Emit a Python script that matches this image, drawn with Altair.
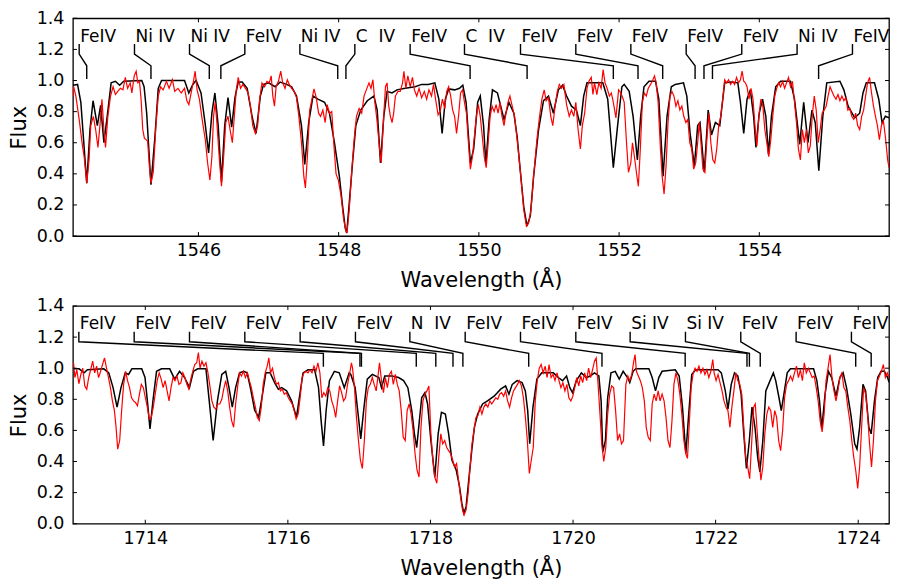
import altair as alt
import pandas as pd

FONT = "DejaVu Sans"

# ---------------- data (wavelength in Angstrom, normalised flux) ----------------
TOP_MODEL = [
    (1544.21, 0.97), (1544.276, 0.975), (1544.323, 0.86), (1544.407, 0.34), (1544.454, 0.69),
    (1544.497, 0.87), (1544.558, 0.71), (1544.605, 0.84), (1544.652, 0.60), (1544.699, 0.77),
    (1544.755, 0.985), (1544.816, 0.995), (1544.877, 0.97), (1544.934, 0.995), (1545.192, 1.0),
    (1545.225, 0.96), (1545.262, 0.79), (1545.323, 0.33), (1545.380, 0.64), (1545.427, 0.95),
    (1545.474, 1.0), (1545.802, 1.0), (1545.863, 0.92), (1545.920, 0.975), (1545.967, 1.0),
    (1546.037, 0.92), (1546.094, 0.73), (1546.145, 0.535), (1546.192, 0.79), (1546.235, 0.92),
    (1546.282, 0.71), (1546.329, 0.35), (1546.375, 0.71), (1546.422, 0.89), (1546.474, 0.70),
    (1546.521, 0.89), (1546.568, 0.99), (1546.624, 0.99), (1546.695, 0.95), (1546.765, 0.77),
    (1546.822, 0.66), (1546.883, 0.90), (1546.930, 0.975), (1547.000, 0.985), (1547.094, 0.96),
    (1547.164, 0.99), (1547.259, 0.975), (1547.329, 0.96), (1547.399, 0.90), (1547.470, 0.71),
    (1547.517, 0.46), (1547.573, 0.73), (1547.634, 0.90), (1547.705, 0.88), (1547.799, 0.86),
    (1547.869, 0.79), (1547.940, 0.60), (1548.010, 0.385), (1548.057, 0.19), (1548.095, 0.05),
    (1548.115, 0.02), (1548.151, 0.21), (1548.198, 0.47), (1548.245, 0.71), (1548.315, 0.81),
    (1548.409, 0.87), (1548.503, 0.90), (1548.550, 0.81), (1548.597, 0.47), (1548.644, 0.77),
    (1548.691, 0.93), (1548.762, 0.92), (1548.832, 0.94), (1548.949, 0.95), (1549.090, 0.96),
    (1549.184, 0.975), (1549.278, 0.975), (1549.372, 0.985), (1549.429, 0.88), (1549.476, 0.66),
    (1549.522, 0.88), (1549.569, 0.946), (1549.654, 0.94), (1549.724, 0.95), (1549.771, 0.97),
    (1549.818, 0.86), (1549.879, 0.47), (1549.926, 0.56), (1549.983, 0.86), (1550.020, 0.90),
    (1550.067, 0.71), (1550.100, 0.46), (1550.147, 0.75), (1550.194, 0.94), (1550.265, 0.92),
    (1550.359, 0.75), (1550.429, 0.86), (1550.499, 0.79), (1550.546, 0.64), (1550.593, 0.41),
    (1550.640, 0.19), (1550.687, 0.064), (1550.734, 0.13), (1550.781, 0.385), (1550.852, 0.685),
    (1550.922, 0.87), (1550.993, 0.90), (1551.063, 0.79), (1551.134, 0.94), (1551.195, 0.97),
    (1551.251, 0.90), (1551.321, 0.835), (1551.392, 0.81), (1551.448, 0.71), (1551.495, 0.90),
    (1551.542, 0.985), (1551.768, 0.985), (1551.838, 0.88), (1551.918, 0.44), (1551.979, 0.71),
    (1552.040, 0.96), (1552.073, 0.975), (1552.144, 0.93), (1552.200, 0.77), (1552.261, 0.49),
    (1552.308, 0.77), (1552.355, 0.96), (1552.426, 0.995), (1552.520, 0.995), (1552.567, 0.88),
    (1552.628, 0.385), (1552.684, 0.77), (1552.745, 0.96), (1552.801, 0.975), (1552.919, 0.985),
    (1552.966, 0.90), (1553.013, 0.66), (1553.074, 0.45), (1553.121, 0.71), (1553.154, 0.73),
    (1553.215, 0.41), (1553.271, 0.81), (1553.318, 0.65), (1553.374, 0.73), (1553.436, 0.71),
    (1553.506, 0.985), (1553.600, 0.99), (1553.694, 0.985), (1553.731, 0.86), (1553.778, 0.66),
    (1553.825, 0.88), (1553.872, 0.94), (1553.919, 0.77), (1553.952, 0.57), (1553.999, 0.79),
    (1554.046, 0.88), (1554.093, 0.77), (1554.131, 0.525), (1554.173, 0.77), (1554.234, 0.96),
    (1554.304, 0.995), (1554.445, 0.995), (1554.502, 0.88), (1554.577, 0.59), (1554.633, 0.86),
    (1554.694, 0.60), (1554.751, 0.81), (1554.798, 0.73), (1554.849, 0.42), (1554.906, 0.77),
    (1554.962, 0.985), (1555.150, 0.995), (1555.206, 0.94), (1555.267, 0.835), (1555.361, 0.76),
    (1555.432, 0.79), (1555.479, 0.92), (1555.526, 0.985), (1555.643, 0.985), (1555.704, 0.88),
    (1555.751, 0.73), (1555.798, 0.77), (1555.85, 0.76),
]

TOP_OBS = [
    (1544.21, 0.90), (1544.220, 0.96), (1544.252, 0.90), (1544.299, 0.75), (1544.346, 0.58),
    (1544.370, 0.51), (1544.407, 0.34), (1544.440, 0.49), (1544.464, 0.71), (1544.501, 0.77),
    (1544.534, 0.685), (1544.567, 0.57), (1544.595, 0.71), (1544.624, 0.88), (1544.652, 0.685),
    (1544.675, 0.57), (1544.708, 0.77), (1544.746, 0.90), (1544.783, 0.96), (1544.816, 0.91),
    (1544.849, 0.93), (1544.887, 0.95), (1544.924, 0.94), (1544.957, 1.02), (1544.990, 0.95),
    (1545.027, 0.985), (1545.051, 0.92), (1545.084, 1.03), (1545.112, 1.06), (1545.135, 0.985),
    (1545.159, 0.995), (1545.182, 0.88), (1545.206, 0.685), (1545.229, 0.63), (1545.253, 0.62),
    (1545.276, 0.61), (1545.300, 0.45), (1545.323, 0.34), (1545.356, 0.41), (1545.394, 0.71),
    (1545.427, 0.90), (1545.460, 0.96), (1545.497, 0.94), (1545.544, 0.995), (1545.582, 0.95),
    (1545.629, 1.005), (1545.662, 0.93), (1545.709, 0.95), (1545.755, 0.92), (1545.802, 0.95),
    (1545.835, 0.87), (1545.864, 0.845), (1545.896, 0.92), (1545.929, 0.995), (1545.953, 1.06),
    (1545.981, 0.94), (1546.014, 0.88), (1546.047, 0.77), (1546.075, 0.685), (1546.098, 0.62),
    (1546.131, 0.47), (1546.164, 0.36), (1546.192, 0.51), (1546.216, 0.77), (1546.239, 0.86),
    (1546.263, 0.73), (1546.296, 0.51), (1546.329, 0.32), (1546.357, 0.49), (1546.390, 0.73),
    (1546.422, 0.77), (1546.451, 0.685), (1546.484, 0.60), (1546.512, 0.77), (1546.540, 0.94),
    (1546.568, 1.02), (1546.601, 0.95), (1546.634, 0.975), (1546.671, 0.95), (1546.709, 0.92),
    (1546.742, 0.835), (1546.775, 0.71), (1546.812, 0.66), (1546.845, 0.71), (1546.873, 0.88),
    (1546.906, 0.985), (1546.944, 0.96), (1546.977, 0.995), (1547.010, 0.985), (1547.038, 1.03),
    (1547.061, 0.90), (1547.085, 0.835), (1547.108, 0.96), (1547.141, 0.995), (1547.174, 1.06),
    (1547.202, 0.985), (1547.235, 0.95), (1547.268, 1.005), (1547.296, 0.975), (1547.329, 0.95),
    (1547.367, 0.93), (1547.399, 0.89), (1547.432, 0.77), (1547.470, 0.60), (1547.503, 0.385),
    (1547.526, 0.31), (1547.554, 0.51), (1547.587, 0.81), (1547.620, 0.88), (1547.648, 0.946),
    (1547.681, 0.89), (1547.714, 0.79), (1547.742, 0.77), (1547.775, 0.81), (1547.808, 0.73),
    (1547.836, 0.845), (1547.869, 0.79), (1547.902, 0.80), (1547.930, 0.60), (1547.963, 0.40),
    (1547.996, 0.36), (1548.034, 0.26), (1548.071, 0.107), (1548.100, 0.043), (1548.120, 0.02),
    (1548.151, 0.17), (1548.189, 0.43), (1548.221, 0.62), (1548.254, 0.77), (1548.292, 0.82),
    (1548.329, 0.79), (1548.362, 0.90), (1548.395, 0.94), (1548.433, 0.985), (1548.461, 0.95),
    (1548.489, 1.005), (1548.517, 0.86), (1548.550, 0.73), (1548.583, 0.56), (1548.607, 0.47),
    (1548.635, 0.71), (1548.668, 0.96), (1548.691, 0.985), (1548.715, 0.835), (1548.738, 0.77),
    (1548.762, 0.73), (1548.785, 0.79), (1548.809, 0.90), (1548.846, 0.93), (1548.879, 0.93),
    (1548.912, 0.985), (1548.931, 1.06), (1548.959, 0.95), (1548.987, 1.03), (1549.020, 0.96),
    (1549.053, 1.02), (1549.081, 0.94), (1549.114, 0.90), (1549.147, 0.95), (1549.184, 0.89),
    (1549.222, 0.93), (1549.255, 0.88), (1549.288, 0.94), (1549.325, 0.90), (1549.353, 0.975),
    (1549.382, 0.88), (1549.419, 0.78), (1549.452, 0.81), (1549.480, 0.88), (1549.513, 0.82),
    (1549.541, 0.93), (1549.569, 0.96), (1549.598, 0.90), (1549.626, 0.81), (1549.654, 0.77),
    (1549.682, 0.66), (1549.710, 0.77), (1549.739, 0.92), (1549.767, 0.94), (1549.795, 0.86),
    (1549.823, 0.79), (1549.851, 0.60), (1549.879, 0.43), (1549.908, 0.51), (1549.936, 0.64),
    (1549.964, 0.77), (1549.992, 0.845), (1550.020, 0.77), (1550.049, 0.64), (1550.077, 0.51),
    (1550.105, 0.44), (1550.133, 0.60), (1550.161, 0.77), (1550.189, 0.835), (1550.218, 0.80),
    (1550.246, 0.845), (1550.274, 0.79), (1550.302, 0.86), (1550.330, 0.77), (1550.359, 0.71),
    (1550.387, 0.79), (1550.415, 0.86), (1550.443, 0.90), (1550.471, 0.845), (1550.509, 0.77),
    (1550.546, 0.62), (1550.593, 0.41), (1550.640, 0.17), (1550.678, 0.064), (1550.711, 0.086),
    (1550.744, 0.17), (1550.781, 0.385), (1550.828, 0.62), (1550.866, 0.77), (1550.899, 0.88),
    (1550.932, 0.94), (1550.960, 0.87), (1550.993, 0.89), (1551.026, 0.77), (1551.054, 0.71),
    (1551.087, 0.835), (1551.119, 0.93), (1551.148, 0.975), (1551.180, 0.95), (1551.213, 0.975),
    (1551.251, 0.845), (1551.289, 0.77), (1551.321, 0.81), (1551.354, 0.77), (1551.383, 0.86),
    (1551.415, 0.685), (1551.448, 0.56), (1551.476, 0.71), (1551.509, 0.79), (1551.542, 0.95),
    (1551.570, 0.995), (1551.603, 1.02), (1551.627, 0.91), (1551.650, 0.985), (1551.683, 0.91),
    (1551.711, 0.985), (1551.744, 0.95), (1551.772, 1.07), (1551.800, 0.985), (1551.829, 0.95),
    (1551.862, 0.90), (1551.890, 0.92), (1551.918, 0.86), (1551.955, 0.76), (1551.993, 0.94),
    (1552.026, 0.92), (1552.059, 0.88), (1552.073, 0.86), (1552.106, 0.60), (1552.134, 0.41),
    (1552.167, 0.47), (1552.191, 0.60), (1552.219, 0.51), (1552.247, 0.41), (1552.275, 0.32),
    (1552.303, 0.56), (1552.332, 0.86), (1552.360, 0.92), (1552.388, 0.90), (1552.416, 0.95),
    (1552.449, 0.975), (1552.482, 1.005), (1552.505, 1.03), (1552.529, 0.985), (1552.557, 0.86),
    (1552.590, 0.56), (1552.614, 0.385), (1552.642, 0.27), (1552.670, 0.45), (1552.698, 0.73),
    (1552.726, 0.90), (1552.754, 0.93), (1552.783, 0.90), (1552.811, 0.835), (1552.839, 0.87),
    (1552.867, 0.81), (1552.895, 0.835), (1552.923, 0.77), (1552.952, 0.73), (1552.980, 0.75),
    (1553.008, 0.60), (1553.036, 0.56), (1553.064, 0.43), (1553.093, 0.47), (1553.121, 0.60),
    (1553.144, 0.73), (1553.168, 0.60), (1553.196, 0.43), (1553.224, 0.41), (1553.252, 0.62),
    (1553.280, 0.79), (1553.309, 0.60), (1553.337, 0.49), (1553.365, 0.47), (1553.393, 0.56),
    (1553.421, 0.71), (1553.450, 0.77), (1553.478, 0.88), (1553.506, 1.005), (1553.534, 0.985),
    (1553.562, 1.005), (1553.591, 0.975), (1553.619, 0.995), (1553.647, 0.975), (1553.675, 1.02),
    (1553.703, 0.985), (1553.731, 1.005), (1553.755, 1.06), (1553.778, 0.995), (1553.802, 0.985),
    (1553.825, 0.96), (1553.853, 0.88), (1553.882, 0.95), (1553.910, 0.88), (1553.938, 0.71),
    (1553.966, 0.58), (1553.994, 0.77), (1554.023, 0.88), (1554.051, 0.835), (1554.079, 0.685),
    (1554.107, 0.60), (1554.135, 0.51), (1554.164, 0.62), (1554.192, 0.77), (1554.220, 0.90),
    (1554.248, 0.95), (1554.276, 0.985), (1554.304, 0.96), (1554.333, 0.995), (1554.361, 0.95),
    (1554.389, 0.985), (1554.417, 1.02), (1554.445, 0.96), (1554.473, 0.995), (1554.502, 0.86),
    (1554.530, 0.73), (1554.558, 0.56), (1554.586, 0.49), (1554.614, 0.685), (1554.643, 0.60),
    (1554.671, 0.685), (1554.699, 0.535), (1554.727, 0.58), (1554.755, 0.77), (1554.784, 0.90),
    (1554.812, 0.81), (1554.840, 0.60), (1554.868, 0.685), (1554.896, 0.79), (1554.924, 0.81),
    (1554.953, 0.835), (1554.981, 0.90), (1555.009, 0.96), (1555.037, 0.93), (1555.065, 0.90),
    (1555.094, 0.88), (1555.122, 0.91), (1555.150, 0.87), (1555.178, 0.90), (1555.206, 0.87),
    (1555.234, 0.89), (1555.263, 0.81), (1555.291, 0.82), (1555.319, 0.77), (1555.347, 0.75),
    (1555.375, 0.79), (1555.403, 0.71), (1555.432, 0.685), (1555.460, 0.77), (1555.488, 0.81),
    (1555.516, 0.90), (1555.544, 0.985), (1555.573, 1.02), (1555.601, 0.92), (1555.629, 0.835),
    (1555.657, 0.77), (1555.685, 0.71), (1555.713, 0.62), (1555.742, 0.71), (1555.770, 0.74),
    (1555.798, 0.64), (1555.831, 0.49), (1555.85, 0.44),
]

BOT_MODEL = [
    (1712.994, 0.996), (1713.072, 0.996), (1713.142, 0.97), (1713.188, 0.99), (1713.419, 0.996),
    (1713.488, 0.97), (1713.548, 0.875), (1713.604, 0.75), (1713.659, 0.875), (1713.719, 0.97),
    (1713.765, 0.96), (1713.812, 0.996), (1713.950, 0.996), (1713.996, 0.94), (1714.029, 0.79),
    (1714.066, 0.61), (1714.112, 0.81), (1714.158, 0.98), (1714.227, 0.996), (1714.343, 0.996),
    (1714.412, 0.93), (1714.481, 0.98), (1714.551, 0.94), (1714.620, 0.875), (1714.675, 0.98),
    (1714.735, 0.996), (1714.851, 0.996), (1714.897, 0.79), (1714.952, 0.535), (1715.012, 0.79),
    (1715.073, 0.96), (1715.128, 0.98), (1715.174, 0.875), (1715.220, 0.75), (1715.267, 0.875),
    (1715.322, 0.97), (1715.382, 0.98), (1715.428, 0.97), (1715.474, 0.875), (1715.534, 0.73),
    (1715.590, 0.685), (1715.636, 0.81), (1715.691, 0.97), (1715.751, 0.97), (1715.821, 0.90),
    (1715.867, 0.865), (1715.913, 0.875), (1715.982, 0.855), (1716.052, 0.79), (1716.121, 0.685),
    (1716.167, 0.83), (1716.213, 0.97), (1716.283, 0.99), (1716.375, 0.99), (1716.430, 0.875),
    (1716.467, 0.66), (1716.500, 0.50), (1716.537, 0.73), (1716.583, 0.92), (1716.652, 0.98),
    (1716.721, 0.97), (1716.791, 0.875), (1716.860, 0.97), (1716.883, 0.96), (1716.944, 0.875),
    (1716.990, 0.684), (1717.022, 0.546), (1717.068, 0.75), (1717.114, 0.93), (1717.184, 0.96),
    (1717.276, 0.94), (1717.313, 0.875), (1717.359, 0.95), (1717.461, 0.95), (1717.553, 0.94),
    (1717.623, 0.92), (1717.683, 0.875), (1717.738, 0.727), (1717.775, 0.578), (1717.807, 0.49),
    (1717.844, 0.66), (1717.877, 0.81), (1717.923, 0.843), (1717.960, 0.77), (1718.006, 0.535),
    (1718.061, 0.30), (1718.108, 0.578), (1718.154, 0.716), (1718.209, 0.705), (1718.255, 0.578),
    (1718.301, 0.41), (1718.362, 0.344), (1718.408, 0.238), (1718.440, 0.132), (1718.468, 0.068),
    (1718.500, 0.11), (1718.537, 0.28), (1718.579, 0.47), (1718.616, 0.62), (1718.662, 0.705),
    (1718.731, 0.77), (1718.800, 0.79), (1718.893, 0.82), (1718.985, 0.865), (1719.054, 0.886),
    (1719.101, 0.833), (1719.147, 0.896), (1719.216, 0.92), (1719.285, 0.907), (1719.331, 0.854),
    (1719.364, 0.727), (1719.392, 0.514), (1719.438, 0.75), (1719.493, 0.93), (1719.562, 0.97),
    (1719.724, 0.97), (1719.793, 0.94), (1719.853, 0.92), (1719.909, 0.95), (1719.955, 0.875),
    (1719.992, 0.843), (1720.047, 0.92), (1720.117, 0.97), (1720.186, 0.94), (1720.241, 0.95),
    (1720.301, 0.97), (1720.362, 0.95), (1720.394, 0.79), (1720.417, 0.46), (1720.454, 0.535),
    (1720.486, 0.81), (1720.532, 0.97), (1720.592, 0.98), (1720.648, 0.93), (1720.703, 0.98),
    (1720.764, 0.94), (1720.796, 0.907), (1720.843, 0.98), (1720.880, 0.996), (1721.064, 0.996),
    (1721.110, 0.94), (1721.157, 0.854), (1721.203, 0.94), (1721.249, 0.98), (1721.434, 0.99),
    (1721.489, 0.95), (1721.535, 0.75), (1721.582, 0.45), (1721.619, 0.684), (1721.665, 0.96),
    (1721.720, 0.99), (1722.034, 0.99), (1722.080, 0.97), (1722.136, 0.854), (1722.173, 0.737),
    (1722.219, 0.896), (1722.265, 0.97), (1722.311, 0.95), (1722.358, 0.833), (1722.395, 0.578),
    (1722.432, 0.355), (1722.473, 0.535), (1722.510, 0.75), (1722.552, 0.62), (1722.589, 0.43),
    (1722.621, 0.333), (1722.662, 0.535), (1722.704, 0.854), (1722.764, 0.92), (1722.810, 0.97),
    (1722.843, 0.92), (1722.889, 0.81), (1722.921, 0.727), (1722.958, 0.833), (1723.004, 0.97),
    (1723.050, 0.996), (1723.374, 0.996), (1723.420, 0.92), (1723.457, 0.79), (1723.489, 0.61),
    (1723.535, 0.833), (1723.582, 0.98), (1723.628, 0.94), (1723.688, 0.82), (1723.743, 0.94),
    (1723.789, 0.97), (1723.836, 0.875), (1723.896, 0.705), (1723.951, 0.514), (1723.983, 0.48),
    (1724.020, 0.62), (1724.067, 0.896), (1724.104, 0.854), (1724.150, 0.62), (1724.182, 0.578),
    (1724.228, 0.79), (1724.274, 0.94), (1724.321, 0.98), (1724.367, 0.98), (1724.413, 0.94),
    (1724.432, 0.91),
]

BOT_OBS = [
    (1712.994, 1.035), (1713.012, 0.94), (1713.040, 0.99), (1713.068, 0.90), (1713.096, 0.96),
    (1713.123, 1.00), (1713.151, 0.886), (1713.179, 0.865), (1713.206, 0.94), (1713.234, 0.99),
    (1713.262, 1.045), (1713.290, 0.97), (1713.317, 1.013), (1713.345, 0.94), (1713.373, 0.98),
    (1713.400, 1.024), (1713.428, 1.066), (1713.456, 1.00), (1713.484, 0.94), (1713.511, 0.875),
    (1713.539, 0.79), (1713.567, 0.727), (1713.590, 0.62), (1713.613, 0.48), (1713.641, 0.535),
    (1713.668, 0.727), (1713.696, 0.896), (1713.724, 0.98), (1713.751, 0.92), (1713.779, 0.875),
    (1713.807, 0.81), (1713.835, 0.79), (1713.862, 0.78), (1713.890, 0.758), (1713.918, 0.833),
    (1713.945, 0.896), (1713.973, 0.875), (1714.001, 0.81), (1714.029, 0.75), (1714.056, 0.673),
    (1714.084, 0.684), (1714.112, 0.75), (1714.139, 0.833), (1714.167, 0.92), (1714.195, 0.97),
    (1714.223, 0.93), (1714.250, 0.875), (1714.278, 0.92), (1714.306, 0.854), (1714.333, 0.79),
    (1714.361, 0.875), (1714.389, 0.94), (1714.417, 0.92), (1714.444, 0.95), (1714.472, 0.896),
    (1714.500, 0.907), (1714.527, 0.97), (1714.555, 0.94), (1714.583, 0.896), (1714.611, 0.865),
    (1714.638, 0.93), (1714.666, 0.98), (1714.694, 1.024), (1714.721, 1.035), (1714.745, 1.10),
    (1714.768, 1.00), (1714.795, 1.045), (1714.823, 1.013), (1714.851, 1.035), (1714.879, 0.97),
    (1714.906, 0.886), (1714.934, 0.79), (1714.962, 0.75), (1714.989, 0.737), (1715.017, 0.77),
    (1715.045, 0.77), (1715.073, 0.80), (1715.100, 0.865), (1715.128, 0.92), (1715.156, 0.854),
    (1715.183, 0.75), (1715.211, 0.663), (1715.239, 0.62), (1715.267, 0.77), (1715.294, 0.875),
    (1715.322, 0.97), (1715.350, 0.95), (1715.377, 0.98), (1715.405, 0.94), (1715.433, 0.97),
    (1715.460, 0.92), (1715.488, 0.875), (1715.516, 0.81), (1715.544, 0.75), (1715.571, 0.684),
    (1715.599, 0.663), (1715.627, 0.75), (1715.654, 0.896), (1715.682, 0.97), (1715.710, 1.013),
    (1715.733, 1.066), (1715.756, 0.97), (1715.784, 1.00), (1715.811, 0.94), (1715.839, 0.896),
    (1715.867, 0.907), (1715.895, 0.854), (1715.922, 0.865), (1715.950, 0.833), (1715.978, 0.843),
    (1716.006, 0.81), (1716.033, 0.79), (1716.061, 0.77), (1716.089, 0.727), (1716.116, 0.673),
    (1716.144, 0.705), (1716.172, 0.81), (1716.200, 0.94), (1716.227, 0.97), (1716.255, 0.98),
    (1716.283, 0.97), (1716.310, 0.99), (1716.338, 0.97), (1716.366, 1.013), (1716.394, 0.98),
    (1716.421, 1.035), (1716.449, 0.97), (1716.477, 0.81), (1716.504, 0.843), (1716.532, 0.82),
    (1716.560, 0.875), (1716.588, 0.854), (1716.615, 0.79), (1716.643, 0.75), (1716.671, 0.684),
    (1716.698, 0.79), (1716.726, 0.886), (1716.754, 0.843), (1716.781, 0.79), (1716.809, 0.81),
    (1716.837, 0.896), (1716.865, 0.96), (1716.892, 1.035), (1716.907, 1.00), (1716.934, 0.875),
    (1716.962, 0.684), (1716.990, 0.535), (1717.017, 0.41), (1717.045, 0.355), (1717.073, 0.535),
    (1717.101, 0.79), (1717.128, 0.875), (1717.156, 0.896), (1717.184, 0.94), (1717.211, 0.896),
    (1717.239, 0.854), (1717.267, 0.96), (1717.285, 1.035), (1717.313, 0.92), (1717.341, 0.843),
    (1717.368, 0.94), (1717.396, 0.875), (1717.424, 0.96), (1717.452, 0.98), (1717.479, 0.896),
    (1717.507, 0.96), (1717.535, 0.896), (1717.562, 0.854), (1717.590, 0.727), (1717.618, 0.556),
    (1717.646, 0.535), (1717.673, 0.727), (1717.701, 0.77), (1717.729, 0.705), (1717.756, 0.60),
    (1717.784, 0.45), (1717.812, 0.344), (1717.840, 0.30), (1717.867, 0.62), (1717.895, 0.79),
    (1717.923, 0.833), (1717.950, 0.854), (1717.978, 0.886), (1718.006, 0.578), (1718.034, 0.41),
    (1718.061, 0.30), (1718.089, 0.26), (1718.117, 0.43), (1718.145, 0.578), (1718.172, 0.514),
    (1718.200, 0.535), (1718.228, 0.49), (1718.255, 0.47), (1718.283, 0.45), (1718.311, 0.41),
    (1718.338, 0.365), (1718.366, 0.387), (1718.394, 0.28), (1718.422, 0.174), (1718.449, 0.09),
    (1718.472, 0.057), (1718.500, 0.09), (1718.528, 0.195), (1718.556, 0.365), (1718.583, 0.514),
    (1718.611, 0.60), (1718.639, 0.684), (1718.666, 0.695), (1718.694, 0.75), (1718.722, 0.705),
    (1718.750, 0.75), (1718.777, 0.77), (1718.805, 0.75), (1718.833, 0.79), (1718.860, 0.77),
    (1718.888, 0.79), (1718.916, 0.81), (1718.944, 0.80), (1718.971, 0.833), (1718.999, 0.843),
    (1719.027, 0.82), (1719.054, 0.854), (1719.082, 0.79), (1719.110, 0.75), (1719.138, 0.81),
    (1719.165, 0.854), (1719.193, 0.875), (1719.221, 0.896), (1719.248, 0.92), (1719.276, 0.886),
    (1719.304, 0.81), (1719.332, 0.684), (1719.359, 0.535), (1719.387, 0.323), (1719.415, 0.41),
    (1719.442, 0.49), (1719.470, 0.79), (1719.498, 0.92), (1719.526, 1.00), (1719.553, 1.024),
    (1719.581, 0.97), (1719.609, 1.013), (1719.636, 0.94), (1719.664, 1.024), (1719.692, 0.94),
    (1719.720, 0.96), (1719.747, 0.92), (1719.775, 0.97), (1719.803, 0.92), (1719.830, 0.875),
    (1719.858, 0.907), (1719.886, 0.854), (1719.914, 0.896), (1719.941, 0.81), (1719.969, 0.79),
    (1719.997, 0.82), (1720.024, 0.875), (1720.052, 0.94), (1720.080, 0.886), (1720.108, 0.95),
    (1720.135, 0.907), (1720.163, 0.97), (1720.191, 0.92), (1720.218, 1.00), (1720.246, 0.94),
    (1720.274, 0.99), (1720.301, 1.045), (1720.325, 1.066), (1720.348, 0.92), (1720.375, 0.727),
    (1720.403, 0.514), (1720.431, 0.40), (1720.459, 0.49), (1720.486, 0.705), (1720.514, 0.833),
    (1720.542, 0.886), (1720.569, 0.875), (1720.597, 0.727), (1720.625, 0.535), (1720.653, 0.578),
    (1720.680, 0.514), (1720.708, 0.535), (1720.741, 0.896), (1720.769, 0.95), (1720.796, 0.92),
    (1720.824, 0.96), (1720.852, 1.045), (1720.870, 1.088), (1720.889, 0.98), (1720.916, 0.95),
    (1720.944, 0.92), (1720.972, 0.875), (1721.000, 0.79), (1721.027, 0.62), (1721.055, 0.556),
    (1721.083, 0.535), (1721.110, 0.77), (1721.138, 0.833), (1721.166, 0.79), (1721.194, 0.854),
    (1721.221, 0.79), (1721.249, 0.833), (1721.277, 0.79), (1721.304, 0.684), (1721.332, 0.535),
    (1721.360, 0.49), (1721.388, 0.663), (1721.415, 0.896), (1721.443, 0.97), (1721.471, 0.92),
    (1721.498, 0.833), (1721.526, 0.705), (1721.554, 0.535), (1721.582, 0.45), (1721.605, 0.42),
    (1721.628, 0.62), (1721.656, 0.875), (1721.683, 0.96), (1721.711, 1.00), (1721.739, 0.98),
    (1721.766, 1.013), (1721.794, 0.97), (1721.822, 1.00), (1721.850, 0.96), (1721.877, 0.99),
    (1721.905, 0.94), (1721.933, 0.98), (1721.960, 1.056), (1721.979, 0.97), (1722.007, 0.92),
    (1722.034, 0.96), (1722.062, 0.907), (1722.090, 0.854), (1722.117, 0.79), (1722.145, 0.75),
    (1722.173, 0.727), (1722.201, 0.62), (1722.228, 0.75), (1722.256, 0.854), (1722.284, 0.97),
    (1722.311, 0.92), (1722.339, 0.896), (1722.367, 0.833), (1722.395, 0.62), (1722.422, 0.43),
    (1722.450, 0.365), (1722.478, 0.29), (1722.505, 0.514), (1722.533, 0.75), (1722.556, 0.77),
    (1722.579, 0.62), (1722.607, 0.43), (1722.635, 0.28), (1722.662, 0.365), (1722.690, 0.578),
    (1722.718, 0.705), (1722.746, 0.75), (1722.773, 0.727), (1722.801, 0.62), (1722.829, 0.727),
    (1722.856, 0.684), (1722.884, 0.535), (1722.912, 0.47), (1722.940, 0.60), (1722.967, 0.81),
    (1722.995, 0.896), (1723.023, 0.92), (1723.050, 0.95), (1723.078, 0.92), (1723.106, 0.97),
    (1723.134, 1.013), (1723.161, 0.94), (1723.189, 0.99), (1723.217, 0.92), (1723.244, 1.035),
    (1723.272, 0.97), (1723.300, 1.00), (1723.328, 0.97), (1723.355, 0.94), (1723.383, 0.95),
    (1723.411, 0.875), (1723.438, 0.79), (1723.466, 0.663), (1723.494, 0.59), (1723.522, 0.705),
    (1723.549, 0.92), (1723.577, 1.00), (1723.605, 1.088), (1723.632, 0.94), (1723.660, 0.854),
    (1723.688, 0.79), (1723.716, 0.854), (1723.743, 0.94), (1723.771, 0.97), (1723.799, 0.875),
    (1723.826, 0.854), (1723.854, 0.75), (1723.882, 0.663), (1723.910, 0.535), (1723.937, 0.43),
    (1723.965, 0.344), (1723.993, 0.227), (1724.020, 0.365), (1724.048, 0.62), (1724.076, 0.875),
    (1724.104, 0.833), (1724.131, 0.705), (1724.159, 0.514), (1724.187, 0.365), (1724.214, 0.535),
    (1724.242, 0.79), (1724.270, 0.92), (1724.298, 0.95), (1724.325, 0.98), (1724.353, 1.024),
    (1724.381, 0.94), (1724.408, 0.97), (1724.432, 0.94),
]

# line identifications: text, label position, line position (Angstrom)
TOP_LABELS = ["FeIV", "Ni IV", "Ni IV", "FeIV", "Ni IV", "C\u00a0 IV", "FeIV", "C\u00a0 IV",
              "FeIV", "FeIV", "FeIV", "FeIV", "FeIV", "Ni IV", "FeIV"]
TOP_LABEL_WL = [1544.299, 1545.088, 1545.873, 1546.662, 1547.447, 1548.231, 1549.020, 1549.795,
                1550.594, 1551.383, 1552.168, 1552.957, 1553.750, 1554.539, 1555.329]
TOP_LINE_WL = [1544.407, 1545.323, 1546.155, 1546.320, 1547.987, 1548.104, 1549.875, 1550.688,
               1551.918, 1552.270, 1552.622, 1553.084, 1553.211, 1553.332, 1554.846]

BOT_LABELS = ["FeIV", "FeIV", "FeIV", "FeIV", "FeIV", "FeIV", "N\u00a0 IV", "FeIV", "FeIV",
              "FeIV", "Si IV", "Si IV", "FeIV", "FeIV", "FeIV"]
BOT_LABEL_WL = [1713.068, 1713.844, 1714.620, 1715.396, 1716.172, 1716.948, 1717.711, 1718.487,
                1719.263, 1720.039, 1720.801, 1721.577, 1722.353, 1723.129, 1723.905]
BOT_LINE_WL = [1716.498, 1717.011, 1717.032, 1717.801, 1718.075, 1718.316, 1718.455, 1719.378,
               1720.406, 1721.573, 1722.440, 1722.474, 1722.626, 1723.965, 1724.182]

# connector levels (flux units) and label baseline
CONNECTOR_LEVELS = [1.235, 1.17, 1.095, 1.01]
LABEL_LEVEL = 1.25

TOP_DOMAIN = [1544.21, 1555.85]
BOT_DOMAIN = [1712.985, 1724.432]
TOP_XTICKS = [1546, 1548, 1550, 1552, 1554]
BOT_XTICKS = [1714, 1716, 1718, 1720, 1722, 1724]
YTICKS = [0.0, 0.2, 0.4, 0.6, 0.8, 1.0, 1.2, 1.4]

W, H = 817, 218
TICK = 4


def panel(model, obs, labels, label_wl, line_wl, domain, xticks):
    xs = alt.Scale(domain=domain, nice=False, zero=False)
    ys = alt.Scale(domain=[0, 1.4], nice=False, zero=False)
    X = alt.X("wl:Q", scale=xs,
              axis=alt.Axis(values=xticks, format="d", title="Wavelength (Å)"))
    Y = alt.Y("fl:Q", scale=ys,
              axis=alt.Axis(values=YTICKS, format=".1f", title="Flux"))

    mdf = pd.DataFrame(model, columns=["wl", "fl"])
    odf = pd.DataFrame(obs, columns=["wl", "fl"])

    rows = []
    for i, (lx, tx) in enumerate(zip(label_wl, line_wl)):
        xs_pts = [lx, lx, tx, tx]
        for k, (x, y) in enumerate(zip(xs_pts, CONNECTOR_LEVELS)):
            rows.append({"wl": x, "fl": y, "id": i, "ord": k})
    cdf = pd.DataFrame(rows)
    tdf = pd.DataFrame({"wl": label_wl, "fl": [LABEL_LEVEL] * len(labels), "text": labels})
    xt = pd.DataFrame({"wl": xticks})
    yt = pd.DataFrame({"fl": YTICKS})

    model_line = alt.Chart(mdf).mark_line(color="black", strokeWidth=1.5, clip=True).encode(x=X, y=Y)
    obs_line = alt.Chart(odf).mark_line(color="#ff0000", strokeWidth=1.2, clip=True).encode(x=X, y=Y)
    conn = alt.Chart(cdf).mark_line(color="black", strokeWidth=1.4).encode(
        x=X, y=Y, detail="id:N", order="ord:Q")
    txt = alt.Chart(tdf).mark_text(align="left", baseline="alphabetic", dx=1, fontSize=17,
                                   font=FONT, color="black").encode(x=X, y=Y, text="text:N")
    xtb = alt.Chart(xt).mark_rule(color="black", strokeWidth=1).encode(
        x=X, y=alt.value(H), y2=alt.value(H - TICK))
    xtt = alt.Chart(xt).mark_rule(color="black", strokeWidth=1).encode(
        x=X, y=alt.value(0), y2=alt.value(TICK))
    ytl = alt.Chart(yt).mark_rule(color="black", strokeWidth=1).encode(
        y=Y, x=alt.value(0), x2=alt.value(TICK))
    ytr = alt.Chart(yt).mark_rule(color="black", strokeWidth=1).encode(
        y=Y, x=alt.value(W), x2=alt.value(W - TICK))
    return alt.layer(model_line, obs_line, conn, txt, xtb, xtt, ytl, ytr).properties(width=W, height=H)


top = panel(TOP_MODEL, TOP_OBS, TOP_LABELS, TOP_LABEL_WL, TOP_LINE_WL, TOP_DOMAIN, TOP_XTICKS)
bottom = panel(BOT_MODEL, BOT_OBS, BOT_LABELS, BOT_LABEL_WL, BOT_LINE_WL, BOT_DOMAIN, BOT_XTICKS)

chart = (
    alt.vconcat(top, bottom, spacing=4)
    .properties(padding={"left": 0, "top": 0, "right": 0, "bottom": 0}, background="white")
    .configure_view(stroke="black", strokeWidth=1.3)
    .configure_axis(domain=False, ticks=False, tickSize=0, grid=False,
                    labelFont=FONT, labelFontSize=17.5, labelColor="black",
                    titleFont=FONT, titleFontSize=21, titleFontWeight="normal", titleColor="black")
    .configure_axisX(labelPadding=5.5, titlePadding=9.5, minExtent=24, maxExtent=24)
    .configure_axisY(labelPadding=9, titlePadding=6, minExtent=37, maxExtent=37)
)

chart.save("out.html", embed_options={"renderer": "svg", "actions": False})
